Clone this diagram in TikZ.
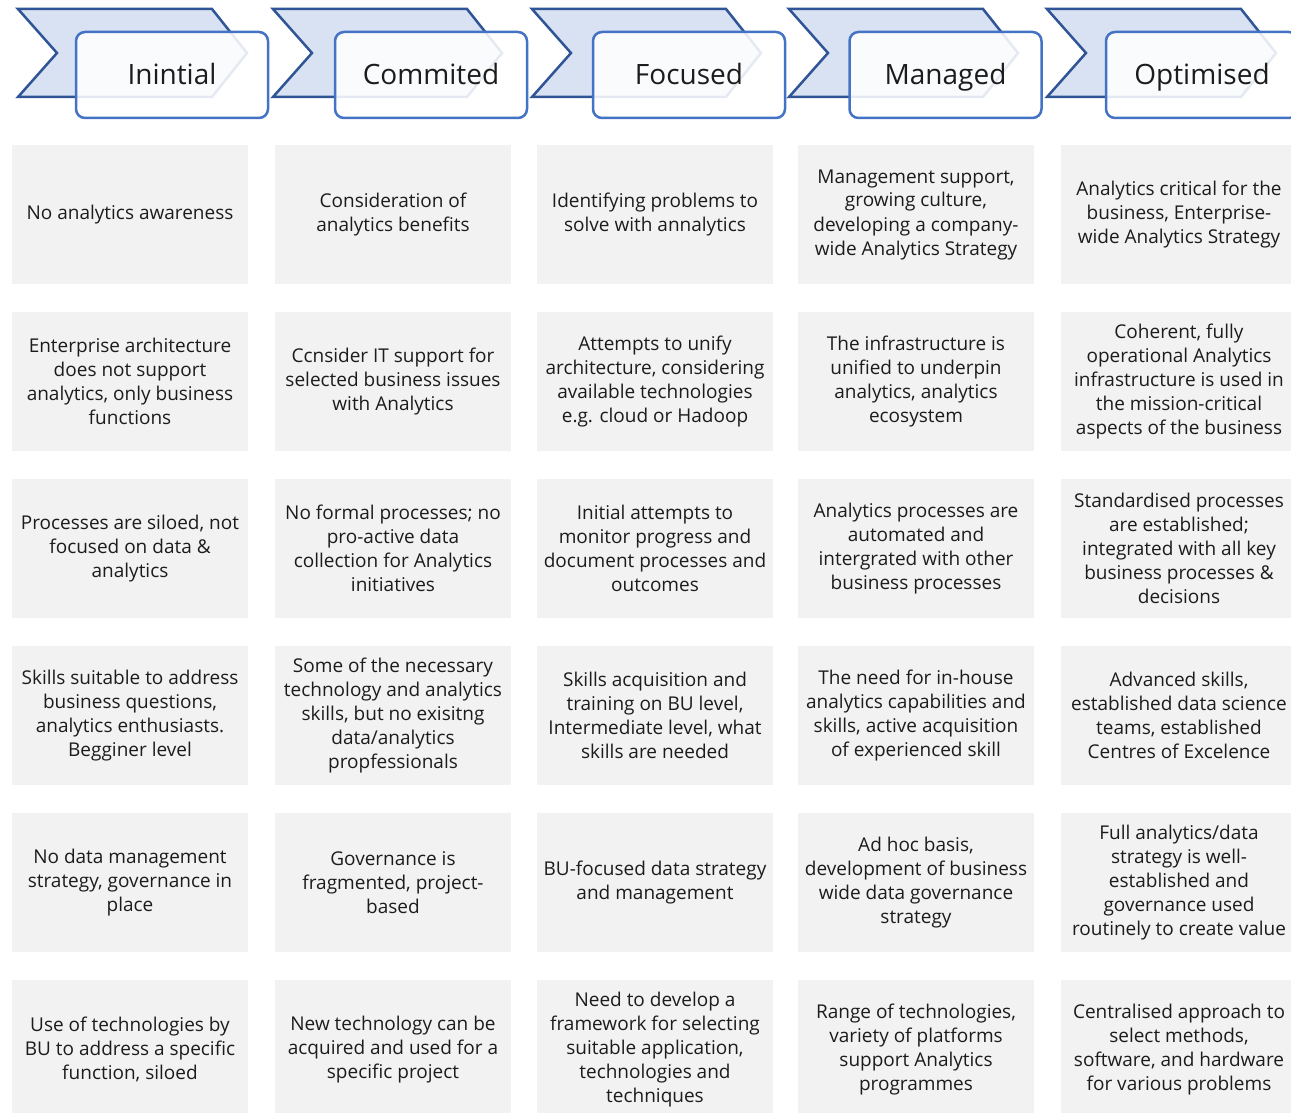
\documentclass[tikz,border=0pt]{standalone}
\usepackage{fontspec}
\setmainfont{Open Sans}
\definecolor{chevfill}{HTML}{D9E2F3}
\definecolor{chevline}{HTML}{2F5597}
\definecolor{boxline}{HTML}{4472C4}
\definecolor{cellfill}{HTML}{F2F2F2}
\definecolor{txt}{HTML}{1C1C1C}
\tikzset{
  chevron/.style={fill=chevfill, draw=chevline, line width=2.5pt, line join=miter},
  headbox/.style={draw=boxline, line width=2.5pt, fill=white, fill opacity=0.88, text opacity=1,
    rounded corners=9pt, minimum width=192pt, minimum height=86pt, inner sep=0pt,
    text height=20pt, text depth=0pt, text=txt, font=\fontsize{28}{34}\selectfont},
  cell/.style={fill=cellfill, minimum width=236pt, minimum height=139pt, inner sep=0pt,
    align=center, text=txt, font=\fontsize{19}{24}\selectfont}
}
\begin{document}
\begin{tikzpicture}[x=1pt,y=-1pt]
\useasboundingbox (0,0) rectangle (1291,1113);
\clip (0,0) rectangle (1291,1113);
\fill[white] (0,0) rectangle (1291,1113);
% header chevrons and boxes
\foreach \xo/\bx/\name/\lab in {18/172/h1/Inintial, 273/431/h2/Commited, 532/689/h3/Focused, 789/945.5/h4/Managed, 1047/1202/h5/Optimised}{
  \draw[chevron] (\xo,9) -- ({\xo+194},9) -- ({\xo+229},53) -- ({\xo+194},97) -- (\xo,97) -- ({\xo+39},53) -- cycle;
  \node[headbox] (\name) at (\bx,75) {\lab};
}
% row 1
\node[cell] (c11) at (130,214.5) {No analytics awareness};
\node[cell] (c12) at (393,214.5) {Consideration of\\analytics benefits};
\node[cell] (c13) at (655,214.5) {Identifying problems to\\solve with annalytics};
\node[cell] (c14) at (916,214.5) {Management support,\\growing culture,\\developing a company-\\wide Analytics Strategy};
\node[cell] (c15) at (1179,214.5) {Analytics critical for the\\business, Enterprise-\\wide Analytics Strategy};
% row 2
\node[cell] (c21) at (130,381.5) {Enterprise architecture\\does not support\\analytics, only business\\functions};
\node[cell] (c22) at (393,381.5) {Ccnsider IT support for\\selected business issues\\with Analytics};
\node[cell] (c23) at (655,381.5) {Attempts to unify\\architecture, considering\\available technologies\\e.g. cloud or Hadoop};
\node[cell] (c24) at (916,381.5) {The infrastructure is\\unified to underpin\\analytics, analytics\\ecosystem};
\node[cell] (c25) at (1179,381.5) {Coherent, fully\\operational Analytics\\infrastructure is used in\\the mission-critical\\aspects of the business};
% row 3
\node[cell] (c31) at (130,548.5) {Processes are siloed, not\\focused on data \&\\analytics};
\node[cell] (c32) at (393,548.5) {No formal processes; no\\pro-active data\\collection for Analytics\\initiatives};
\node[cell] (c33) at (655,548.5) {Initial attempts to\\monitor progress and\\document processes and\\outcomes};
\node[cell] (c34) at (916,548.5) {Analytics processes are\\automated and\\intergrated with other\\business processes};
\node[cell] (c35) at (1179,548.5) {Standardised processes\\are established;\\integrated with all key\\business processes \&\\decisions};
% row 4
\node[cell] (c41) at (130,715.5) {Skills suitable to address\\business questions,\\analytics enthusiasts.\\Begginer level};
\node[cell] (c42) at (393,715.5) {Some of the necessary\\technology and analytics\\skills, but no exisitng\\data/analytics\\propfessionals};
\node[cell] (c43) at (655,715.5) {Skills acquisition and\\training on BU level,\\Intermediate level, what\\skills are needed};
\node[cell] (c44) at (916,715.5) {The need for in-house\\analytics capabilities and\\skills, active acquisition\\of experienced skill};
\node[cell] (c45) at (1179,715.5) {Advanced skills,\\established data science\\teams, established\\Centres of Excelence};
% row 5
\node[cell] (c51) at (130,882.5) {No data management\\strategy, governance in\\place};
\node[cell] (c52) at (393,882.5) {Governance is\\fragmented, project-\\based};
\node[cell] (c53) at (655,882.5) {BU-focused data strategy\\and management};
\node[cell] (c54) at (916,882.5) {Ad hoc basis,\\development of business\\wide data governance\\strategy};
\node[cell] (c55) at (1179,882.5) {Full analytics/data\\strategy is well-\\established and\\governance used\\routinely to create value};
% row 6
\node[cell] (c61) at (130,1049.5) {Use of technologies by\\BU to address a specific\\function, siloed};
\node[cell] (c62) at (393,1049.5) {New technology can be\\acquired and used for a\\specific project};
\node[cell] (c63) at (655,1049.5) {Need to develop a\\framework for selecting\\suitable application,\\technologies and\\techniques};
\node[cell] (c64) at (916,1049.5) {Range of technologies,\\variety of platforms\\support Analytics\\programmes};
\node[cell] (c65) at (1179,1049.5) {Centralised approach to\\select methods,\\software, and hardware\\for various problems};
\end{tikzpicture}
\end{document}
